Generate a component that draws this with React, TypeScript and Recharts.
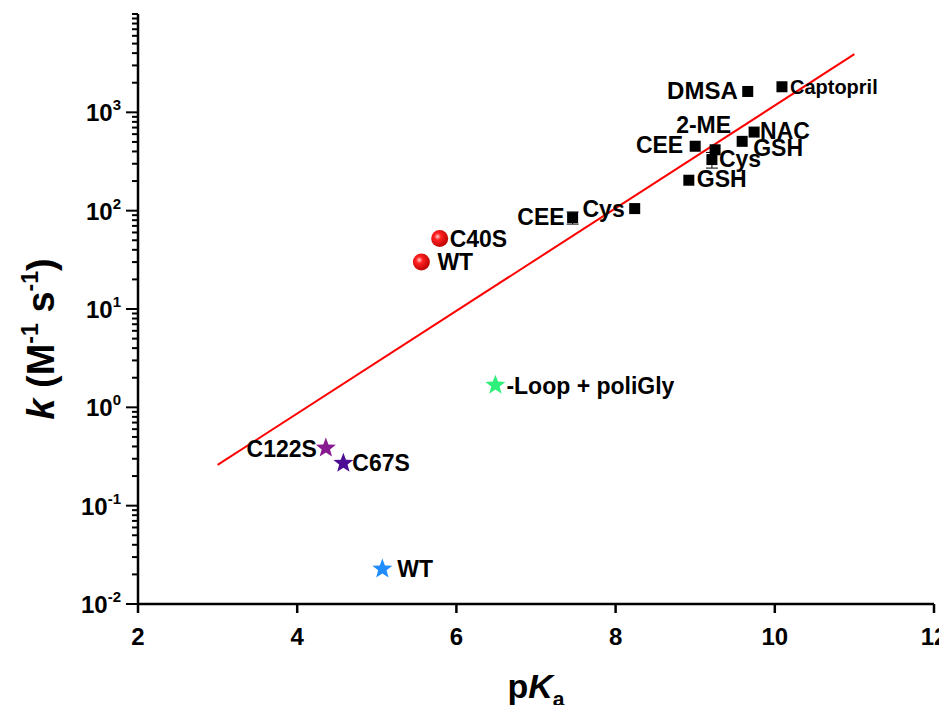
import { ComposedChart, ErrorBar, Label, Scatter, XAxis, YAxis } from "recharts";

// thiol compounds (black squares)
const thiolNames = ["DMSA", "Captopril", "NAC", "GSH", "CEE", "2-ME", "Cys", "GSH", "CEE", "Cys"];
const thiolPKa = [9.66, 10.09, 9.74, 9.59, 9.0, 9.25, 9.21, 8.92, 7.46, 8.24];
const thiolK = [1630, 1820, 630, 507, 452, 416, 331, 204, 85, 105];
const thiolErr = [0, 0, 0, 0, 0, 0, 60, 0, 12, 0];

// protein variants (red spheres)
const sphereNames = ["C40S", "WT"];
const spherePKa = [5.79, 5.56];
const sphereK = [52, 30];

// mutants (stars)
const starNames = ["C122S", "C67S", "WT", "-Loop + poliGly"];
const starPKa = [4.36, 4.58, 5.07, 6.49];
const starK = [0.385, 0.27, 0.0227, 1.68];
const starColors = ["#861a8e", "#4a0d94", "#1f8cff", "#2ef07a"];

// linear fit
const fitPKa = [3, 11];
const fitK = [0.26, 3900];

const xTicks = [2, 4, 6, 8, 10, 12];
const yDecades = [0.01, 0.1, 1, 10, 100, 1000];
const yExponents = ["-2", "-1", "0", "1", "2", "3"];
const yMinorSteps = [2, 3, 4, 5, 6, 7, 8, 9];
const yTop = 10000;

const FONT = "'Liberation Sans', Arial, sans-serif";

const thiols = thiolNames.map((name, i) => ({ name, i, x: thiolPKa[i], y: thiolK[i], err: thiolErr[i] }));
const spheres = sphereNames.map((name, i) => ({ name, i, x: spherePKa[i], y: sphereK[i] }));
const stars = starNames.map((name, i) => ({ name, i, x: starPKa[i], y: starK[i] }));
const fit = fitPKa.map((x, i) => ({ x, y: fitK[i] }));

const yTicks: number[] = [];
yDecades.forEach((d) => {
  yTicks.push(d);
  yMinorSteps.forEach((m) => yTicks.push(Number((d * m).toPrecision(3))));
});
yTicks.push(yTop);

// label offsets from the marker centre
const thiolLabelPlace = [
  { dx: -10, dy: 8, anchor: "end", size: 24 },
  { dx: 8, dy: 7, anchor: "start", size: 20 },
  { dx: 6, dy: 7, anchor: "start", size: 23 },
  { dx: 11, dy: 15, anchor: "start", size: 23 },
  { dx: -12, dy: 7, anchor: "end", size: 23 },
  { dx: 16, dy: -17, anchor: "end", size: 23 },
  { dx: 7, dy: 7, anchor: "start", size: 23 },
  { dx: 8, dy: 7, anchor: "start", size: 23 },
  { dx: -8, dy: 7, anchor: "end", size: 23 },
  { dx: -10, dy: 8, anchor: "end", size: 23 },
];
const sphereLabelPlace = [
  { dx: 10, dy: 8 },
  { dx: 16, dy: 8 },
];
const starLabelPlace = [
  { dx: -9, dy: 9, anchor: "end" },
  { dx: 9, dy: 8, anchor: "start" },
  { dx: 15, dy: 8, anchor: "start" },
  { dx: 11, dy: 9, anchor: "start" },
];

function starPath(cx: number, cy: number, r: number) {
  const pts: string[] = [];
  for (let k = 0; k < 10; k++) {
    const rad = k % 2 === 0 ? r : r * 0.42;
    const a = -Math.PI / 2 + (k * Math.PI) / 5;
    pts.push(`${(cx + rad * Math.cos(a)).toFixed(2)},${(cy + rad * Math.sin(a)).toFixed(2)}`);
  }
  return `M${pts.join("L")}Z`;
}

function ThiolMark(props: any) {
  const { cx, cy, payload } = props;
  const p = thiolLabelPlace[payload.i];
  return (
    <g>
      <rect x={cx - 5.5} y={cy - 5.5} width={11} height={11} fill="#000" />
      <text x={cx + p.dx} y={cy + p.dy} textAnchor={p.anchor} fontFamily={FONT} fontWeight="bold" fontSize={p.size} fill="#000">
        {payload.name}
      </text>
    </g>
  );
}

function SphereMark(props: any) {
  const { cx, cy, payload } = props;
  const p = sphereLabelPlace[payload.i];
  const id = `sph${payload.i}`;
  return (
    <g>
      <defs>
        <radialGradient id={id} cx="0.38" cy="0.38" r="0.65">
          <stop offset="0" stopColor="#ffd0d0" />
          <stop offset="0.3" stopColor="#f22" />
          <stop offset="1" stopColor="#b00" />
        </radialGradient>
      </defs>
      <circle cx={cx} cy={cy} r={8.5} fill={`url(#${id})`} />
      <text x={cx + p.dx} y={cy + p.dy} fontFamily={FONT} fontWeight="bold" fontSize={23} fill="#000">
        {payload.name}
      </text>
    </g>
  );
}

function StarMark(props: any) {
  const { cx, cy, payload } = props;
  const p = starLabelPlace[payload.i];
  return (
    <g>
      <path d={starPath(cx, cy, 10.5)} fill={starColors[payload.i]} />
      <text x={cx + p.dx} y={cy + p.dy} textAnchor={p.anchor} fontFamily={FONT} fontWeight="bold" fontSize={23} fill="#000">
        {payload.name}
      </text>
    </g>
  );
}

function NoMark() {
  return <g />;
}

function XTick(props: any) {
  const { x, y, payload } = props;
  return (
    <g>
      <line x1={x} y1={y} x2={x} y2={y + 9} stroke="#000" strokeWidth={2.5} />
      <text x={x} y={y + 41} textAnchor="middle" fontFamily={FONT} fontWeight="bold" fontSize={24} fill="#000">
        {payload.value}
      </text>
    </g>
  );
}

function YTick(props: any) {
  const { x, y, payload } = props;
  const idx = yDecades.indexOf(payload.value);
  const major = idx >= 0;
  return (
    <g>
      <line x1={x - (major ? 12 : 6)} y1={y} x2={x} y2={y} stroke="#000" strokeWidth={2} />
      {major && (
        <text x={x - 17} y={y + 9} textAnchor="end" fontFamily={FONT} fontWeight="bold" fontSize={24} fill="#000">
          <tspan>10</tspan>
          <tspan dy={-11} fontSize={15}>
            {yExponents[idx]}
          </tspan>
        </text>
      )}
    </g>
  );
}

function YTitle() {
  const cx = 41;
  const cy = 339;
  return (
    <text transform={`rotate(-90, ${cx}, ${cy})`} x={cx} y={cy + 13} textAnchor="middle" fontFamily={FONT} fontWeight="bold" fontSize={38} fill="#000">
      <tspan fontStyle="italic">k</tspan>
      <tspan> (M</tspan>
      <tspan dy={-16} fontSize={23}>-1</tspan>
      <tspan dy={16}> s</tspan>
      <tspan dy={-16} fontSize={23}>-1</tspan>
      <tspan dy={16}>)</tspan>
    </text>
  );
}

function XTitle() {
  return (
    <text x={536} y={698} textAnchor="middle" fontFamily={FONT} fontWeight="bold" fontSize={34} fill="#000">
      <tspan>p</tspan>
      <tspan fontStyle="italic">K</tspan>
      <tspan dy={8} fontSize={21}>a</tspan>
    </text>
  );
}

export default function App() {
  return (
    <div style={{ margin: -8, width: 947, height: 713, background: "#fff" }}>
      <ComposedChart width={947} height={713} margin={{ top: 14, right: 13, bottom: 49, left: 28 }}>
        <XAxis
          type="number"
          dataKey="x"
          domain={[2, 12]}
          ticks={xTicks}
          allowDataOverflow
          axisLine={{ stroke: "#000", strokeWidth: 2.5 }}
          tickLine={false}
          tickSize={0}
          tickMargin={0}
          tick={<XTick />}
          height={60}
        >
          <Label content={<XTitle />} />
        </XAxis>
        <YAxis
          type="number"
          dataKey="y"
          scale="log"
          domain={[0.01, yTop]}
          ticks={yTicks}
          allowDataOverflow
          interval={0}
          axisLine={{ stroke: "#000", strokeWidth: 2.5 }}
          tickLine={false}
          tickSize={0}
          tickMargin={0}
          tick={<YTick />}
          width={110}
        >
          <Label content={<YTitle />} />
        </YAxis>
        <Scatter data={fit} line={{ stroke: "#ff0000", strokeWidth: 2 }} shape={<NoMark />} isAnimationActive={false} />
        <Scatter data={thiols} shape={<ThiolMark />} isAnimationActive={false}>
          <ErrorBar dataKey="err" direction="y" stroke="#000" strokeWidth={1} width={6} />
        </Scatter>
        <Scatter data={spheres} shape={<SphereMark />} isAnimationActive={false} />
        <Scatter data={stars} shape={<StarMark />} isAnimationActive={false} />
      </ComposedChart>
    </div>
  );
}
